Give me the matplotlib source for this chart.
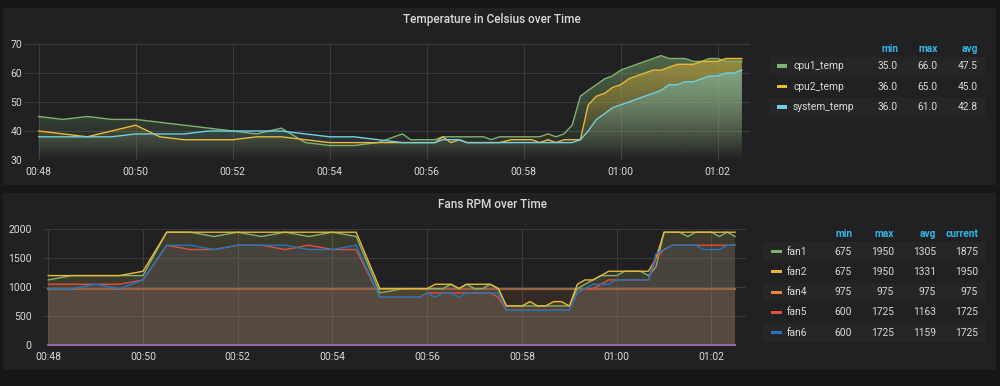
import numpy as np
import matplotlib
matplotlib.use('Agg')
import matplotlib.pyplot as plt
from matplotlib.patches import Rectangle
from matplotlib.colors import to_rgb

plt.rcParams['font.family'] = ['Roboto', 'DejaVu Sans']

# ---- data (time in minutes after 00:48) ----
tick_minutes = [0, 2, 4, 6, 8, 10, 12, 14]
tick_labels = ['00:48', '00:50', '00:52', '00:54', '00:56', '00:58', '01:00', '01:02']

temp_t = [0, 0.5, 1, 1.5, 2, 2.5, 3, 3.5, 4, 4.5, 5, 5.5, 6, 6.5, 7,
          7.5, 7.67, 8.17, 8.33, 8.5, 8.67, 8.83, 9.17, 9.33, 9.5, 9.75,
          10.17, 10.33, 10.5, 10.67, 10.83,
          11, 11.17, 11.33, 11.5, 11.67, 11.83, 12, 12.17, 12.33, 12.5, 12.67,
          12.83, 13, 13.17, 13.33, 13.5, 13.67, 13.83, 14, 14.17, 14.33, 14.5]
cpu1_temp = [45, 44, 45, 44, 44, 43, 42, 41, 40, 39, 41, 36, 35, 35, 36,
             39, 37, 37, 38, 38, 38, 38, 38, 37, 38, 38,
             38, 38, 39, 38, 39,
             42, 52, 54, 56, 58, 59, 61, 62, 63, 64, 65,
             66, 65, 65, 65, 64, 64, 65, 65, 64, 64, 64]
cpu2_temp = [40, 39, 38, 40, 42, 38, 37, 37, 37, 38, 38, 37, 36, 36, 36,
             36, 36, 36, 38, 36, 37, 36, 36, 36, 36, 37,
             37, 36, 37, 36, 37,
             37, 37, 49, 52, 53, 55, 56, 58, 59, 60, 61,
             61, 62, 63, 63, 63, 64, 64, 64, 65, 65, 65]
system_temp = [38, 38, 38, 38, 39, 39, 39, 40, 40, 40, 40, 39, 38, 38, 37,
               36, 36, 36, 37, 37, 37, 36, 36, 36, 36, 36,
               36, 36, 36, 36, 36,
               36, 37, 40, 44, 46, 48, 49, 50, 51, 52, 53,
               54, 56, 56, 57, 57, 58, 59, 59, 60, 60, 61]
temp_names = ['cpu1_temp', 'cpu2_temp', 'system_temp']
temp_min = [35.0, 36.0, 36.0]
temp_max = [66.0, 65.0, 61.0]
temp_avg = [47.5, 45.0, 42.8]

fan_t = [0, 0.5, 1, 1.5, 2, 2.5, 3, 3.5, 4, 4.5, 5, 5.5, 6, 6.5,
         7, 7.5, 7.83, 8,
         8.17, 8.33, 8.5, 8.67, 8.83, 9, 9.17, 9.33, 9.5, 9.67, 10,
         10.17, 10.33, 10.5, 10.67, 10.83, 11, 11.17, 11.33, 11.5, 11.67, 11.83, 12,
         12.17, 12.33, 12.5, 12.67, 12.83, 13, 13.17, 13.33, 13.5, 13.67, 13.83, 14,
         14.17, 14.33, 14.5]
fan1 = [1125, 1200, 1200, 1200, 1200, 1950, 1950, 1875, 1950, 1875, 1950, 1875, 1950, 1875,
        900, 975, 975, 975,
        975, 975, 1050, 975, 1050, 975, 975, 1050, 975, 675, 675,
        675, 675, 675, 675, 675, 675, 975, 1050, 1125, 1200, 1200, 1200,
        1275, 1275, 1275, 1200, 1350, 1950, 1950, 1950, 1875, 1950, 1950, 1950,
        1875, 1950, 1875]
fan2 = [1200, 1200, 1200, 1200, 1275, 1950, 1950, 1950, 1950, 1950, 1950, 1950, 1950, 1950,
        975, 975, 975, 975,
        1050, 1050, 1050, 975, 1050, 1050, 1050, 1050, 975, 675, 675,
        750, 675, 675, 750, 750, 675, 1050, 1125, 1125, 1200, 1275, 1275,
        1275, 1275, 1275, 1275, 1500, 1950, 1950, 1950, 1950, 1950, 1950, 1950,
        1950, 1950, 1950]
fan4 = [975] * len(fan_t)
fan5 = [1050, 1050, 1050, 1050, 1125, 1725, 1650, 1650, 1725, 1725, 1650, 1725, 1650, 1650,
        825, 825, 825, 900,
        900, 900, 900, 900, 900, 900, 900, 900, 825, 600, 600,
        600, 600, 600, 600, 600, 600, 900, 975, 975, 1050, 1125, 1125,
        1125, 1125, 1125, 1125, 1500, 1650, 1725, 1725, 1725, 1725, 1725, 1725,
        1725, 1725, 1725]
fan6 = [975, 975, 1050, 975, 1125, 1725, 1725, 1650, 1725, 1725, 1725, 1650, 1650, 1725,
        825, 825, 825, 900,
        825, 900, 900, 825, 900, 900, 900, 900, 900, 600, 600,
        600, 600, 600, 600, 600, 600, 900, 975, 1050, 1050, 1050, 1125,
        1125, 1125, 1125, 1125, 1575, 1650, 1725, 1725, 1725, 1725, 1650, 1650,
        1650, 1725, 1725]
fan_zero = [0] * len(fan_t)
fan_names = ['fan1', 'fan2', 'fan4', 'fan5', 'fan6']
fan_min = [675, 675, 975, 600, 600]
fan_max = [1950, 1950, 975, 1725, 1725]
fan_avg = [1305, 1331, 975, 1163, 1159]
fan_cur = [1875, 1950, 975, 1725, 1725]

# ---- style ----
W, H = 1000, 386
BG = '#161719'
PANEL = '#212124'
STRIPE = '#262629'
TEXT = '#d8d9da'
HEAD = '#33b5e5'
GRID = '#3a3a3d'
temp_colors = ['#7EB26D', '#EAB839', '#6ED0E0']
fan_colors = ['#7EB26D', '#EAB839', '#EF843C', '#E24D42', '#1F78C1']


def fig_x(px):
    return px / W


def fig_y(py):
    return 1 - py / H


def panel(x0, y0, x1, y1, color):
    fig.patches.append(Rectangle((fig_x(x0), fig_y(y1)), (x1 - x0) / W, (y1 - y0) / H,
                                 transform=fig.transFigure, facecolor=color, edgecolor='none', zorder=-5))


def style_axes(ax, ypad):
    ax.set_facecolor('none')
    for s in ax.spines.values():
        s.set_visible(False)
    ax.set_xticks(tick_minutes)
    ax.set_xticklabels(tick_labels)
    ax.tick_params(length=0, colors=TEXT, labelsize=7.5)
    ax.tick_params(axis='y', pad=ypad)
    ax.tick_params(axis='x', pad=5)
    ax.grid(True, color=GRID, linewidth=0.8)
    ax.set_axisbelow(True)


def gradient_fill(ax, x, y, color, ymin, ymax, xlim, amax):
    poly = ax.fill_between(x, y, ymin, facecolor='none', edgecolor='none')
    grad = np.zeros((200, 1, 4))
    grad[:, :, :3] = to_rgb(color)
    grad[:, 0, 3] = np.linspace(0, amax, 200)
    im = ax.imshow(grad, extent=[xlim[0], xlim[1], ymin, ymax], origin='lower',
                   aspect='auto', zorder=1, interpolation='bilinear')
    im.set_clip_path(poly.get_paths()[0], transform=ax.transData)


fig = plt.figure(figsize=(W / 100, H / 100), dpi=100, facecolor=BG)
panel(3, 8, 996, 185, PANEL)
panel(3, 193, 996, 370, PANEL)

# ---- temperature panel ----
ax1 = fig.add_axes([fig_x(25), fig_y(160), 725 / W, 116 / H])
style_axes(ax1, 2)
txlim = (-0.282, 14.667)
for vals, c in zip([cpu1_temp, cpu2_temp, system_temp], temp_colors):
    gradient_fill(ax1, temp_t, vals, c, 30, 70, txlim, 0.55)
    ax1.plot(temp_t, vals, color=c, lw=1.0, zorder=3)
ax1.set_xlim(*txlim)
ax1.set_ylim(30, 70)
ax1.set_yticks([30, 40, 50, 60, 70])
fig.text(fig_x(492), fig_y(19), 'Temperature in Celsius over Time', color=TEXT,
         fontsize=8.5, fontweight='medium', ha='center', va='center')

# temperature legend
cols = [898, 938, 978]
for x, h in zip(cols, ['min', 'max', 'avg']):
    fig.text(fig_x(x), fig_y(48.5), h, color=HEAD, fontsize=7.3, fontweight='bold',
             ha='right', va='center')
for i, name in enumerate(temp_names):
    yc = 66 + 20.5 * i
    if i % 2 == 0:
        panel(769, yc - 9.3, 986, yc + 9.3, STRIPE)
    panel(777, yc - 1.5, 787, yc + 1.5, temp_colors[i])
    fig.text(fig_x(793), fig_y(yc), name, color=TEXT, fontsize=7.4, ha='left', va='center')
    for x, v in zip(cols, [temp_min[i], temp_max[i], temp_avg[i]]):
        fig.text(fig_x(x), fig_y(yc), f'{v:.1f}', color=TEXT, fontsize=7.4, ha='right', va='center')

# ---- fans panel ----
ax2 = fig.add_axes([fig_x(42.7), fig_y(345), (746 - 42.7) / W, 115.7 / H])
style_axes(ax2, 8)
for vals, c in zip([fan1, fan2, fan4, fan5, fan6], fan_colors):
    ax2.fill_between(fan_t, vals, 0, facecolor=c, alpha=0.1, edgecolor='none', zorder=1)
for vals, c in zip([fan1, fan2, fan5, fan6], [fan_colors[0], fan_colors[1], fan_colors[3], fan_colors[4]]):
    ax2.plot(fan_t, vals, color=c, lw=1.0, zorder=3)
ax2.plot(fan_t, fan4, color='#9c6446', lw=1.6, zorder=2)
ax2.plot(fan_t, fan_zero, color='#a46cbd', lw=1.3, zorder=3, clip_on=False)
ax2.set_xlim(-0.118, 14.73)
ax2.set_ylim(0, 2000)
ax2.set_yticks([0, 500, 1000, 1500, 2000])
fig.text(fig_x(492), fig_y(204), 'Fans RPM over Time', color=TEXT,
         fontsize=8.5, fontweight='medium', ha='center', va='center')

# fans legend
fcols = [852, 894, 936, 978]
for x, h in zip(fcols, ['min', 'max', 'avg', 'current']):
    fig.text(fig_x(x), fig_y(234), h, color=HEAD, fontsize=7.3, fontweight='bold',
             ha='right', va='center')
for i, name in enumerate(fan_names):
    yc = 251.7 + 20.2 * i
    if i % 2 == 0:
        panel(763, yc - 9.3, 986, yc + 9.3, STRIPE)
    panel(771, yc - 1.5, 781.5, yc + 1.5, fan_colors[i])
    fig.text(fig_x(787), fig_y(yc), name, color=TEXT, fontsize=7.4, ha='left', va='center')
    for x, v in zip(fcols, [fan_min[i], fan_max[i], fan_avg[i], fan_cur[i]]):
        fig.text(fig_x(x), fig_y(yc), f'{v}', color=TEXT, fontsize=7.4, ha='right', va='center')

fig.savefig('out.png', dpi=100, facecolor=BG)
